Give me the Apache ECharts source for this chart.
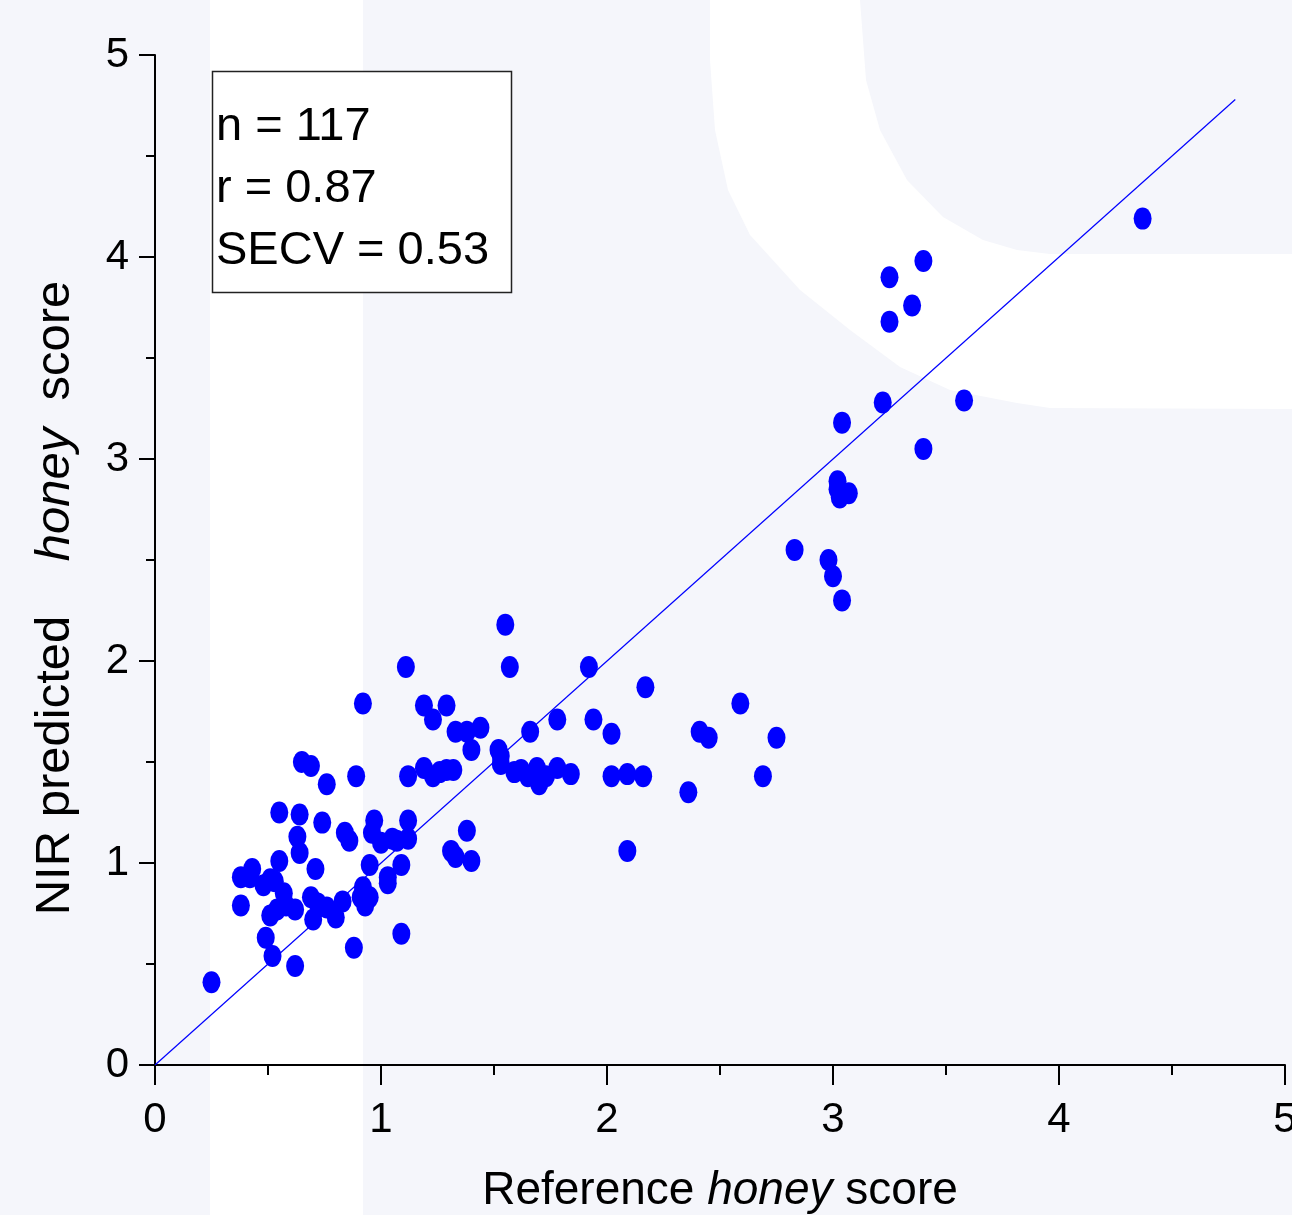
<!DOCTYPE html>
<html>
<head>
<meta charset="utf-8">
<script src="https://cdn.jsdelivr.net/npm/echarts@6/dist/echarts.min.js"></script>
<style>
  html, body { margin: 0; padding: 0; background: #f5f6fb; overflow: hidden; }
  #chart { width: 1292px; height: 1215px; }
</style>
</head>
<body>
<div id="chart"></div>
<script>
// reference (x) and NIR predicted (y) honey scores
const refScore = [
  0.25, 0.38, 0.43, 0.38, 0.48, 0.53, 0.57, 0.49, 0.52, 0.51,
  0.54, 0.62, 0.55, 0.64, 0.63, 0.64, 0.55, 0.71, 0.62, 0.69,
  0.70, 0.76, 0.80, 0.83, 0.91, 0.95, 0.92, 0.88, 1.09, 0.74,
  0.84, 0.86, 0.97, 0.96, 1.00, 1.07, 1.12, 1.12, 0.95, 1.03,
  1.09, 0.65, 0.69, 0.76, 0.89, 0.92, 1.11, 1.12, 1.19, 1.23,
  1.29, 1.32, 1.19, 1.29, 1.23, 1.33, 1.38, 1.44, 1.40, 1.31,
  1.33, 1.40, 1.38, 1.55, 1.57, 1.52, 1.53, 1.59, 1.62, 1.69,
  1.70, 1.73, 1.78, 1.84, 1.66, 1.78, 1.92, 1.94, 2.02, 2.02,
  2.09, 2.16, 2.09, 2.17, 2.36, 2.41, 2.45, 2.59, 2.69, 2.75,
  4.37, 3.40, 3.25, 3.35, 3.25, 3.22, 3.58, 3.04, 3.40, 3.02,
  3.03, 3.07, 2.83, 2.98, 3.00, 3.04, 1.53, 1.65, 1.03, 1.05,
  0.93, 0.42, 0.51, 0.72, 1.26, 0.58, 3.02
]
const predScore = [
  0.41, 0.93, 0.97, 0.79, 0.89, 0.91, 0.85, 0.63, 0.54, 0.74,
  0.77, 0.49, 1.25, 1.24, 1.13, 1.05, 1.01, 0.97, 0.77, 0.83,
  0.72, 0.78, 0.73, 0.81, 0.83, 0.83, 0.88, 0.58, 0.65, 1.20,
  1.15, 1.11, 1.21, 1.15, 1.10, 1.11, 1.21, 1.12, 0.99, 0.93,
  0.99, 1.50, 1.48, 1.39, 1.43, 1.79, 1.97, 1.43, 1.47, 1.43,
  1.46, 1.46, 1.78, 1.78, 1.71, 1.65, 1.65, 1.67, 1.56, 1.06,
  1.03, 1.01, 1.16, 2.18, 1.97, 1.56, 1.49, 1.45, 1.46, 1.47,
  1.39, 1.43, 1.47, 1.44, 1.65, 1.71, 1.97, 1.71, 1.64, 1.43,
  1.44, 1.43, 1.06, 1.87, 1.35, 1.65, 1.62, 1.79, 1.43, 1.62,
  4.19, 3.98, 3.90, 3.76, 3.68, 3.28, 3.29, 3.18, 3.05, 2.89,
  2.81, 2.83, 2.55, 2.50, 2.42, 2.30, 1.53, 1.43, 0.90, 1.12,
  0.79, 0.93, 0.92, 0.80, 1.45, 0.79, 2.85
]
// 1:1 line
const lineEnd = 4.78
const tickValues = [0, 1, 2, 3, 4, 5]
const statsLines = ['n = 117', 'r = 0.87', 'SECV = 0.53']

const FONT = "'Liberation Sans', Arial, sans-serif"

const points = refScore.map((x, i) => [x, predScore[i]])

const chart = echarts.init(document.getElementById('chart'), null, { renderer: 'canvas' })

const axisCommon = {
  type: 'value',
  min: tickValues[0],
  max: tickValues[tickValues.length - 1],
  interval: 1,
  splitLine: { show: false },
  axisLine: { show: true, lineStyle: { color: '#000', width: 2 } },
  axisTick: { show: true, inside: false, lineStyle: { color: '#000', width: 2 } },
  minorTick: { show: true, splitNumber: 2, lineStyle: { color: '#000', width: 2 } },
  axisLabel: { color: '#000', fontSize: 42, fontFamily: FONT }
}

const option = {
  backgroundColor: '#f5f6fb',
  animation: false,
  grid: { left: 155, top: 55, right: 7, bottom: 150, containLabel: false, outerBoundsMode: 'none' },
  xAxis: {
    ...axisCommon,
    axisTick: { ...axisCommon.axisTick, length: 20 },
    minorTick: { ...axisCommon.minorTick, length: 10 },
    axisLabel: { ...axisCommon.axisLabel, margin: 34 },
    name: '{n|Reference }{i|honey}{n| score}',
    nameLocation: 'middle',
    nameGap: 103,
    nameTextStyle: {
      rich: {
        n: { fontSize: 46, fontFamily: FONT, color: '#000' },
        i: { fontSize: 46, fontFamily: FONT, fontStyle: 'italic', color: '#000' }
      }
    }
  },
  yAxis: {
    ...axisCommon,
    axisTick: { ...axisCommon.axisTick, length: 16 },
    minorTick: { ...axisCommon.minorTick, length: 9 },
    axisLabel: { ...axisCommon.axisLabel, margin: 26 }
  },
  graphic: [
    // white watermark shapes behind the plot
    { type: 'rect', z: -10, silent: true, shape: { x: 210, y: 0, width: 153, height: 1215 }, style: { fill: '#ffffff' } },
    {
      type: 'polygon', z: -10, silent: true,
      shape: {
        points: [
          [710, 0], [860, 0], [866, 80], [880, 130], [907, 180], [943, 217], [983, 240],
          [1017, 250], [1050, 254], [1292, 254], [1292, 409], [1050, 408], [1017, 403],
          [950, 390], [900, 367], [850, 330], [800, 290], [750, 235], [728, 190],
          [715, 130], [710, 60]
        ]
      },
      style: { fill: '#ffffff' }
    },
    // stats box
    { type: 'rect', z: 50, shape: { x: 212.5, y: 71.5, width: 299, height: 221 }, style: { fill: '#ffffff', stroke: '#222', lineWidth: 1.5 } },
    {
      type: 'text', z: 51, x: 216, y: 96,
      style: { text: statsLines.join('\n'), font: '47px ' + FONT, fill: '#000', lineHeight: 62, verticalAlign: 'top' }
    },
    // y axis title
    {
      type: 'text', z: 51, x: 55, y: 598, rotation: Math.PI / 2,
      style: {
        text: '{n|NIR predicted    }{i|honey}{n|  score}',
        align: 'center', verticalAlign: 'middle',
        rich: {
          n: { fontSize: 49, fontFamily: FONT, fill: '#000' },
          i: { fontSize: 49, fontFamily: FONT, fontStyle: 'italic', fill: '#000' }
        }
      }
    }
  ],
  series: [
    {
      type: 'line',
      data: [[0, 0], [lineEnd, lineEnd]],
      symbol: 'none',
      lineStyle: { color: '#0000ff', width: 1.2 },
      z: 3,
      silent: true
    },
    {
      type: 'scatter',
      data: points,
      symbol: 'circle',
      symbolSize: [18, 22],
      itemStyle: { color: '#0000ff', opacity: 1 },
      z: 4
    }
  ]
}

chart.setOption(option)
</script>
</body>
</html>
